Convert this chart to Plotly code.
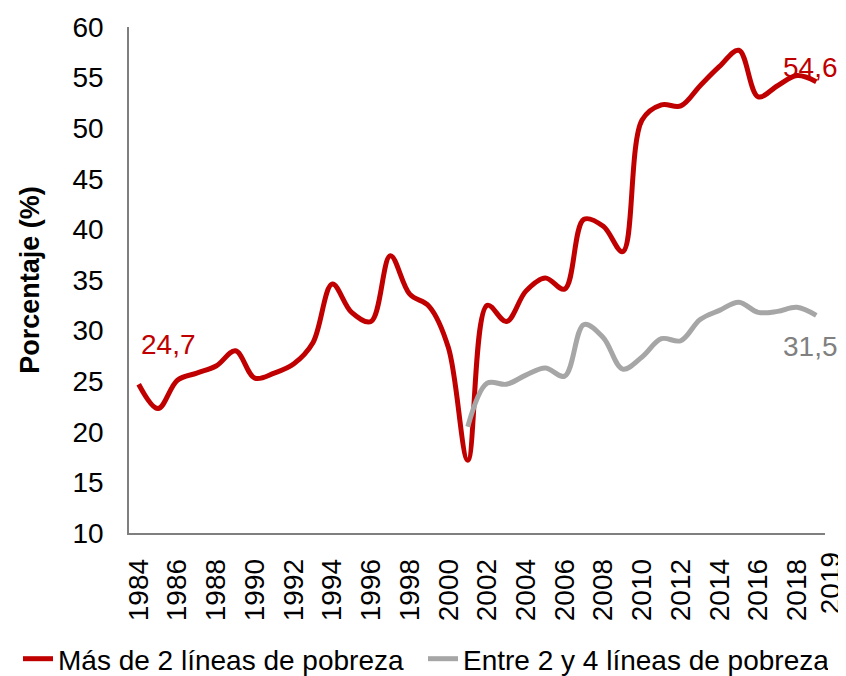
import plotly.graph_objects as go

years = list(range(1984, 2020))
mas_2_lineas = [24.7, 22.3, 25.1, 25.8, 26.5, 28.0, 25.3, 25.8, 26.7, 28.8,
                34.6, 31.8, 30.9, 37.4, 33.6, 32.4, 28.3, 17.2, 32.5, 30.9,
                33.9, 35.2, 34.1, 41.0, 40.3, 37.8, 50.8, 52.3, 52.2, 54.2,
                56.1, 57.7, 53.1, 54.2, 55.2, 54.6]
years_grey = list(range(2001, 2020))
entre_2_4 = [20.5, 24.8, 24.7, 25.6, 26.3, 25.5, 30.6, 29.3, 26.2, 27.4,
             29.2, 29.0, 31.1, 32.0, 32.8, 31.8, 31.9, 32.3, 31.5]
tick_years = list(range(1984, 2019, 2))
tick_labels = [str(y) for y in tick_years]
last_label = "2019"
series_names = ["Más de 2 líneas de pobreza", "Entre 2 y 4 líneas de pobreza"]

RED = "#C00000"
GREY = "#A6A6A6"
FONT = "Liberation Sans, Arial, sans-serif"

fig = go.Figure()
fig.add_trace(go.Scatter(x=years, y=mas_2_lineas, mode="lines", name=series_names[0],
                         line=dict(color=RED, width=5, shape="spline", smoothing=1)))
fig.add_trace(go.Scatter(x=years_grey, y=entre_2_4, mode="lines", name=series_names[1],
                         line=dict(color=GREY, width=5, shape="spline", smoothing=1)))

fig.add_annotation(x=years[0], y=28.6, xref="x", yref="y", text=f"{mas_2_lineas[0]:.1f}".replace(".", ","),
                   showarrow=False, xanchor="left", yanchor="middle",
                   font=dict(color=RED, size=28, family=FONT))
fig.add_annotation(x=1.0216, y=56.0, xref="paper", yref="y", text=f"{mas_2_lineas[-1]:.1f}".replace(".", ","),
                   showarrow=False, xanchor="right", yanchor="middle",
                   font=dict(color=RED, size=28, family=FONT))
fig.add_annotation(x=1.0216, y=28.4, xref="paper", yref="y", text=f"{entre_2_4[-1]:.1f}".replace(".", ","),
                   showarrow=False, xanchor="right", yanchor="middle",
                   font=dict(color="#808080", size=28, family=FONT))
fig.add_annotation(x=1.0072, y=-0.034, xref="paper", yref="paper", text=last_label,
                   showarrow=False, xanchor="center", yanchor="top", textangle=-90,
                   font=dict(color="black", size=28, family=FONT))

fig.update_layout(
    width=838, height=668,
    margin=dict(l=121, r=21, t=19, b=143, autoexpand=False),
    paper_bgcolor="white", plot_bgcolor="white",
    font=dict(family=FONT, size=28, color="black"),
    showlegend=True,
    legend=dict(orientation="h", xref="paper", yref="paper",
                x=-0.1595, xanchor="left", y=-0.249, yanchor="middle",
                font=dict(size=28, family=FONT, color="black"),
                itemwidth=30, tracegroupgap=0, entrywidth=360, entrywidthmode="pixels"),
)
fig.update_xaxes(range=[1983.5, 2019.45], tickmode="array", tickvals=tick_years, ticktext=tick_labels,
                 tickangle=-90, showgrid=False, zeroline=False, showline=True, automargin=False,
                 linecolor="#7F7F7F", linewidth=1.5, ticks="", ticklabelstandoff=13,
                 tickfont=dict(size=28, family=FONT, color="black"))
fig.update_yaxes(range=[10, 60], tickvals=list(range(10, 61, 5)), showgrid=False, zeroline=False,
                 showline=True, linecolor="#7F7F7F", linewidth=1.5, ticks="", ticklabelstandoff=18,
                 automargin=False,
                 tickfont=dict(size=28, family=FONT, color="black"),
                 title=dict(text="<b>Porcentaje (%)</b>", standoff=25,
                            font=dict(size=27, family=FONT, color="black")))

fig.write_html("out.html")
